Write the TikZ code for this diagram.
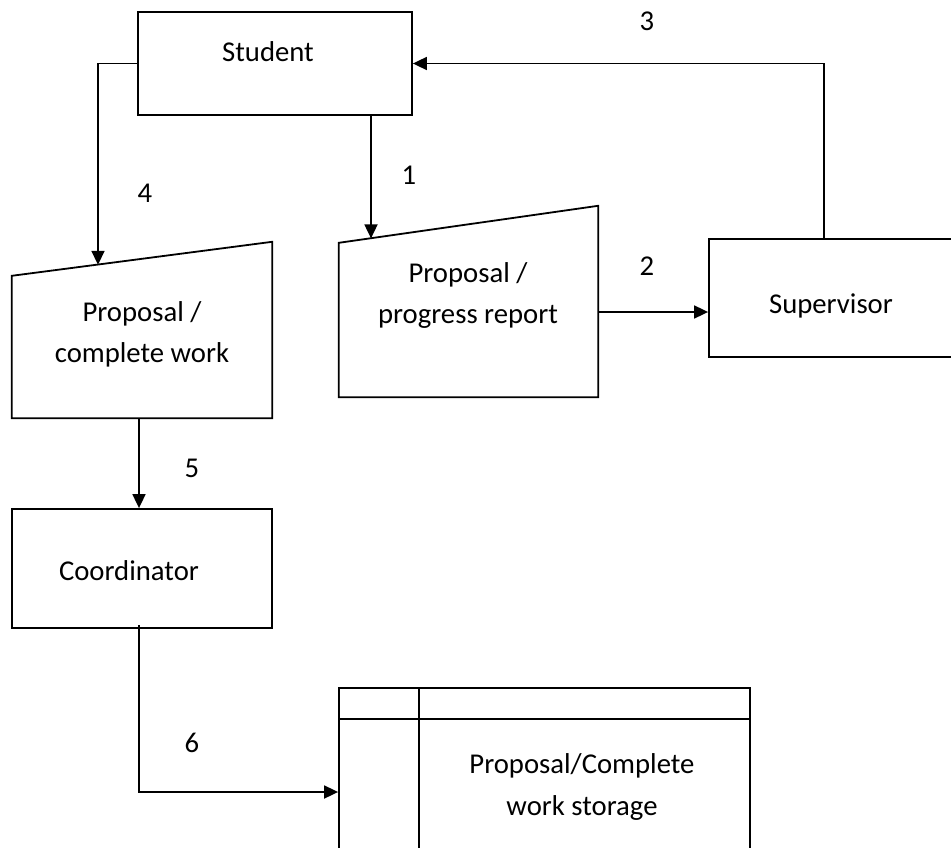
\documentclass[tikz,border=0pt]{standalone}
\usepackage{fontspec}
\setmainfont{Carlito}
\usetikzlibrary{arrows.meta,calc}
\begin{document}
\begin{tikzpicture}[x=1pt,y=-1pt,
  box/.style={draw,line width=1.8pt,rectangle,inner sep=0pt},
  ghost/.style={draw=none,rectangle,inner sep=0pt},
  shapeline/.style={draw,line width=1.8pt,line join=miter},
  flow/.style={line width=1.8pt,-{Triangle[length=14pt,width=13pt]}},
  txt/.style={font=\fontsize{28.7}{42}\selectfont,inner sep=0pt,anchor=base}]
\useasboundingbox (0,0) rectangle (951,848);
\clip (0,0) rectangle (951,848);

% boxes
\node[box, minimum width=274pt, minimum height=103pt] (student) at (275,63.5) {};
\node[txt] (studentT) at (268,62) {Student};

\node[box, minimum width=300pt, minimum height=118pt] (sup) at (859,298) {};
\node[txt] (supT) at (831,313) {Supervisor};

\node[box, minimum width=260pt, minimum height=119pt] (coord) at (142,568.5) {};
\node[txt] (coordT) at (129,580) {Coordinator};

% storage
\node[box, minimum width=411pt, minimum height=208pt] (store) at (544.5,792) {};
\draw[line width=1.8pt] ($(store.north west)+(0,32)$) -- ($(store.north east)+(0,32)$);
\draw[line width=1.8pt] ($(store.north west)+(81,0)$) -- ($(store.south west)+(81,0)$);
\node[txt] (storeT1) at (582,773) {Proposal/Complete};
\node[txt] (storeT2) at (582,815) {work storage};

% manual input shapes
\node[ghost, minimum width=260pt, minimum height=176pt] (pcw) at (142,330) {};
\draw[shapeline] ($(pcw.north west)+(0,34)$) -- (pcw.north east) -- (pcw.south east) -- (pcw.south west) -- cycle;
\node[txt] (pcwT1) at (142,321) {Proposal /};
\node[txt] (pcwT2) at (142,362) {complete work};
\coordinate (c4) at (98,264.8);

\node[ghost, minimum width=259pt, minimum height=191pt] (ppr) at (468.5,301.5) {};
\draw[shapeline] ($(ppr.north west)+(0,37)$) -- (ppr.north east) -- (ppr.south east) -- (ppr.south west) -- cycle;
\node[txt] (pprT1) at (468,282) {Proposal /};
\node[txt] (pprT2) at (468,323) {progress report};
\coordinate (c1) at (371,238.4);

% connectors
\draw[flow] (student.west) -| (c4);
\draw[flow] (c1 |- student.south) -- (c1);
\draw[flow] ($(ppr.east)+(0,10.5)$) coordinate (a2) -- (a2 -| sup.west);
\draw[flow] ($(sup.north west)+(116,0)$) |- (student.east);
\draw[flow] ($(pcw.south)+(-3,0)$) coordinate (a5) -- (a5 |- coord.north);
\draw[flow] ($(coord.south)+(-3,-4)$) |- (store.west);

% flow numbers
\node[txt] (n1) at (409,185) {1};
\node[txt] (n2) at (647,275) {2};
\node[txt] (n3) at (647,31) {3};
\node[txt] (n4) at (145,202) {4};
\node[txt] (n5) at (192,477) {5};
\node[txt] (n6) at (192,752) {6};
\end{tikzpicture}
\end{document}
